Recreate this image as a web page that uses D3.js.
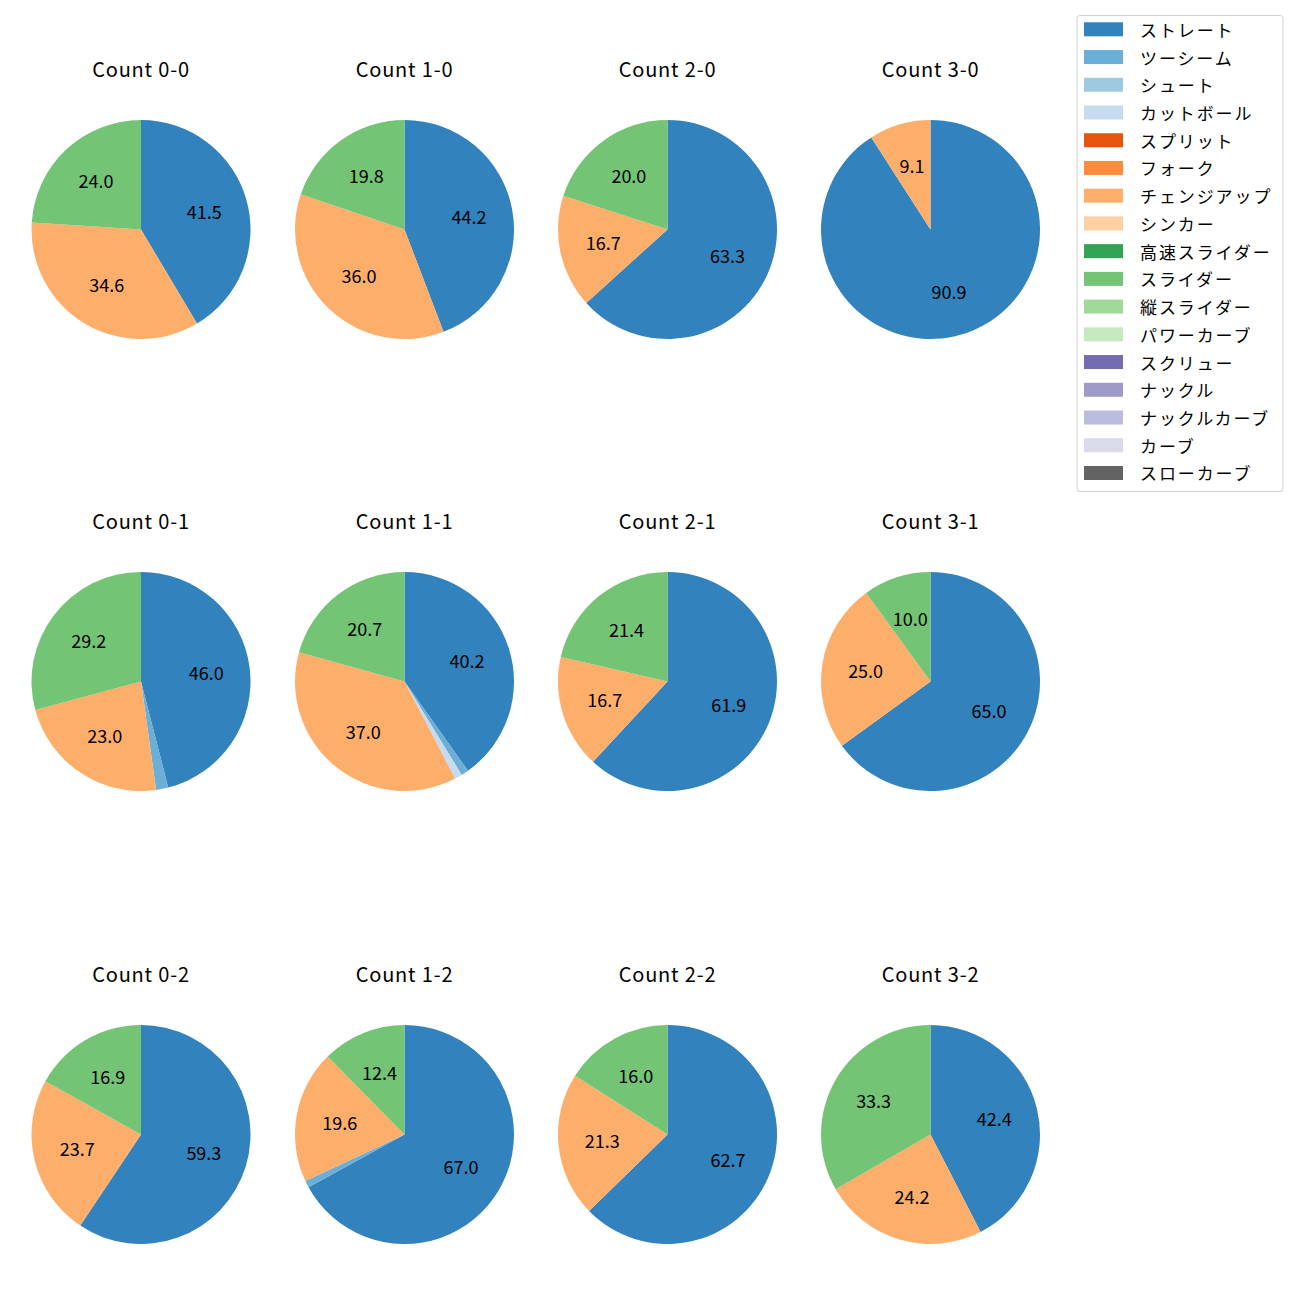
<!DOCTYPE html>
<html><head><meta charset="utf-8">
<script src="https://cdn.jsdelivr.net/npm/d3@7"></script>
<style>body{margin:0;background:#fff;} text{font-family:"Noto Sans CJK JP","Noto Sans",sans-serif;}</style>
</head><body>
<svg id="c" width="1300" height="1300"></svg>
<script>
const counts = ["0-0","1-0","2-0","3-0","0-1","1-1","2-1","3-1","0-2","1-2","2-2","3-2"];
const pitchTypes = ["ストレート","ツーシーム","シュート","カットボール","スプリット","フォーク","チェンジアップ","シンカー","高速スライダー","スライダー","縦スライダー","パワーカーブ","スクリュー","ナックル","ナックルカーブ","カーブ","スローカーブ"];
const colors = ["#3182bd","#6baed6","#9ecae1","#c6dbef","#e6550d","#fd8d3c","#fdae6b","#fdd0a2","#31a354","#74c476","#a1d99b","#c7e9c0","#756bb1","#9e9ac8","#bcbddc","#dadaeb","#636363"];
// percentages per count (same order as counts)
const straight   = [41.5,44.2,63.3,90.9,46.0,40.2,61.9,65.0,59.3,67.0,62.7,42.4];
const twoSeam    = [0,0,0,0,1.8,1.1,0,0,0,1.0,0,0];
const cutter     = [0,0,0,0,0,1.1,0,0,0,0,0,0];
const changeup   = [34.6,36.0,16.7,9.1,23.0,37.0,16.7,25.0,23.7,19.6,21.3,24.2];
const slider     = [24.0,19.8,20.0,0,29.2,20.7,21.4,10.0,16.9,12.4,16.0,33.3];
const zeros = counts.map(()=>0);
const seriesValues = [straight,twoSeam,zeros,cutter,zeros,zeros,changeup,zeros,zeros,slider,zeros,zeros,zeros,zeros,zeros,zeros,zeros];

const svg = d3.select("#c");
const colX = [141,404.5,667.5,930.5];
const rowY = [229.5,681.5,1134.5];
const R = 109.5;
const pie = d3.pie().sort(null).value(d=>d.v);
const arc = d3.arc().innerRadius(0).outerRadius(R);

counts.forEach((c,i)=>{
  const cx = colX[i%4], cy = rowY[Math.floor(i/4)];
  const data = pitchTypes.map((p,k)=>({p, v:seriesValues[k][i], col:colors[k]})).filter(d=>d.v>0);
  const g = svg.append("g").attr("transform",`translate(${cx},${cy})`);
  const arcs = pie(data);
  g.selectAll("path").data(arcs).enter().append("path")
    .attr("d",arc).attr("fill",d=>d.data.col);
  g.selectAll("text.l").data(arcs.filter(d=>d.data.v>=5)).enter().append("text")
    .attr("class","l")
    .attr("x",d=>{const a=(d.startAngle+d.endAngle)/2; return 0.6*R*Math.sin(a);})
    .attr("y",d=>{const a=(d.startAngle+d.endAngle)/2; return -0.6*R*Math.cos(a)-1.5;})
    .attr("text-anchor","middle").attr("dominant-baseline","central")
    .attr("font-size",18).attr("fill","#000")
    .text(d=>d.data.v.toFixed(1));
  svg.append("text").attr("x",cx).attr("y",cy-161.5)
    .attr("text-anchor","middle").attr("dominant-baseline","central")
    .attr("font-size",20).attr("letter-spacing","0.8px").attr("fill","#000").text("Count "+c);
});

// legend
const lg = svg.append("g");
lg.append("rect").attr("x",1077).attr("y",15.5).attr("width",206).attr("height",476)
  .attr("rx",3).attr("fill","#fff").attr("stroke","#d0d0d0").attr("stroke-width",1);
pitchTypes.forEach((p,k)=>{
  const y = 29.3 + k*27.73;
  lg.append("rect").attr("x",1084).attr("y",y-7).attr("width",39).attr("height",14).attr("fill",colors[k]);
  lg.append("text").attr("x",1140).attr("y",y).attr("dominant-baseline","central")
    .attr("font-size",17).attr("letter-spacing","1.9px").attr("fill","#000").text(p);
});
</script>
</body></html>
